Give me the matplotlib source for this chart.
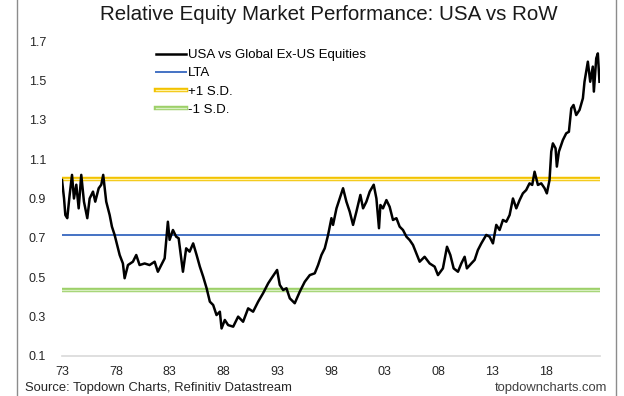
import matplotlib.pyplot as plt
import matplotlib.patheffects as pe
from matplotlib.lines import Line2D

plt.rcParams['font.family'] = ['Liberation Sans', 'DejaVu Sans']

# relative performance, USA vs global ex-US
years = [1973.00, 1973.19, 1973.31, 1973.49, 1973.71, 1973.93, 1974.11, 1974.33, 1974.55, 1974.79,
         1975.04, 1975.35, 1975.57, 1975.88, 1976.09, 1976.41, 1976.65, 1976.83, 1977.11, 1977.43,
         1977.64, 1977.89, 1978.13, 1978.36, 1978.66, 1978.82, 1979.13, 1979.59, 1979.90, 1980.21,
         1980.68, 1981.14, 1981.61, 1981.91, 1982.22, 1982.54, 1982.84, 1983.00, 1983.31, 1983.61,
         1983.84, 1984.24, 1984.54, 1984.86, 1985.19, 1985.51, 1985.81, 1986.12, 1986.44, 1986.74,
         1987.05, 1987.36, 1987.67, 1987.83, 1988.13, 1988.44, 1988.91, 1989.37, 1989.83, 1990.30,
         1990.76, 1991.23, 1991.69, 1992.16, 1992.47, 1992.99, 1993.24, 1993.55, 1993.86, 1994.17,
         1994.63, 1995.10, 1995.56, 1996.03, 1996.49, 1996.80, 1997.11, 1997.42, 1997.73, 1998.04,
         1998.19, 1998.51, 1998.81, 1999.12, 1999.43, 1999.74, 2000.05, 2000.36, 2000.73, 2000.98,
         2001.29, 2001.60, 2001.97, 2002.22, 2002.46, 2002.59, 2002.83, 2003.15, 2003.45, 2003.76,
         2004.08, 2004.38, 2004.69, 2005.01, 2005.31, 2005.62, 2005.93, 2006.24, 2006.70, 2007.17,
         2007.63, 2007.94, 2008.40, 2008.78, 2009.09, 2009.40, 2009.80, 2010.11, 2010.42, 2010.63,
         2011.04, 2011.35, 2011.65, 2011.97, 2012.43, 2012.74, 2013.05, 2013.36, 2013.67, 2013.98,
         2014.29, 2014.60, 2014.91, 2015.22, 2015.53, 2015.83, 2016.14, 2016.45, 2016.70, 2016.92,
         2017.23, 2017.54, 2017.85, 2018.06, 2018.31, 2018.47, 2018.62, 2018.87, 2018.99, 2019.18,
         2019.55, 2019.86, 2020.11, 2020.33, 2020.54, 2020.79, 2021.10, 2021.41, 2021.56, 2021.87,
         2022.09, 2022.33, 2022.43, 2022.65, 2022.80, 2022.95]
ratio = [0.994, 0.90, 0.816, 0.80, 0.918, 1.02, 0.90, 0.97, 0.85, 1.02,
         0.884, 0.80, 0.90, 0.935, 0.884, 0.952, 0.97, 1.02, 0.884, 0.816,
         0.757, 0.715, 0.664, 0.613, 0.57, 0.495, 0.562, 0.579, 0.613, 0.562,
         0.57, 0.562, 0.579, 0.528, 0.562, 0.596, 0.782, 0.69, 0.74, 0.706,
         0.698, 0.528, 0.647, 0.63, 0.672, 0.613, 0.554, 0.503, 0.444, 0.376,
         0.359, 0.308, 0.325, 0.24, 0.283, 0.257, 0.249, 0.30, 0.274, 0.342,
         0.325, 0.376, 0.419, 0.469, 0.495, 0.537, 0.461, 0.435, 0.444, 0.393,
         0.368, 0.427, 0.477, 0.511, 0.52, 0.562, 0.613, 0.647, 0.715, 0.80,
         0.766, 0.85, 0.90, 0.952, 0.884, 0.833, 0.766, 0.833, 0.918, 0.85,
         0.884, 0.935, 0.97, 0.90, 0.749, 0.867, 0.85, 0.892, 0.858, 0.791,
         0.80, 0.757, 0.74, 0.706, 0.689, 0.664, 0.622, 0.579, 0.604, 0.57,
         0.554, 0.511, 0.545, 0.655, 0.613, 0.545, 0.528, 0.57, 0.604, 0.545,
         0.57, 0.588, 0.638, 0.672, 0.715, 0.706, 0.672, 0.766, 0.74, 0.791,
         0.782, 0.816, 0.90, 0.85, 0.892, 0.926, 0.943, 0.977, 0.969, 1.036,
         0.969, 0.977, 0.952, 0.926, 0.994, 1.138, 1.18, 1.155, 1.062, 1.138,
         1.197, 1.231, 1.239, 1.358, 1.375, 1.324, 1.35, 1.409, 1.493, 1.595,
         1.493, 1.57, 1.443, 1.612, 1.637, 1.493]

lta = 0.715
sd_up = 1.0
sd_dn = 0.435

tick_years = [1973, 1978, 1983, 1988, 1993, 1998, 2003, 2008, 2013, 2018]
tick_labels = ['73', '78', '83', '88', '93', '98', '03', '08', '13', '18']
y_ticks = [0.1, 0.3, 0.5, 0.7, 0.9, 1.1, 1.3, 1.5, 1.7]

fig = plt.figure(figsize=(6.24, 3.96), dpi=100)
ax = fig.add_axes([62/624, 1 - 356/396, 538/624, 315/396])

x0, x1 = 1973, 2023
ax.plot(years, ratio, color='black', lw=1.8, label='USA vs Global Ex-US Equities', zorder=5)
ax.plot([x0, x1], [lta, lta], color='#4472C4', lw=1.4, label='LTA', zorder=3)
ax.plot([x0, x1], [sd_up, sd_up], color='#FFF3A8', lw=1.0, label='+1 S.D.', zorder=3,
        path_effects=[pe.Stroke(linewidth=3.2, foreground='#F2C200'), pe.Normal()])
ax.plot([x0, x1], [sd_dn, sd_dn], color='#D9EFC2', lw=1.0, label='-1 S.D.', zorder=3,
        path_effects=[pe.Stroke(linewidth=3.2, foreground='#9DD069'), pe.Normal()])

ax.set_xlim(x0, x1)
ax.set_ylim(0.1, 1.7)
ax.set_yticks(y_ticks)
ax.set_yticklabels([f'{v:.1f}' for v in y_ticks])
ax.set_xticks(tick_years)
ax.set_xticklabels(tick_labels)
ax.tick_params(length=0, labelsize=9, colors='#262626')
ax.tick_params(axis='y', pad=11.5)
ax.tick_params(axis='x', pad=7)
for s in ['top', 'right', 'left']:
    ax.spines[s].set_visible(False)
ax.spines['bottom'].set_color('#D9D9D9')
ax.spines['bottom'].set_linewidth(1.2)

ax.legend(loc='upper left', bbox_to_anchor=(0.16, 1.0), frameon=False, fontsize=9.5,
          handlelength=2.3, handletextpad=0.15, labelspacing=0.45, borderaxespad=0.2)

fig.text(329/624, 1 - 14/396, 'Relative Equity Market Performance: USA vs RoW',
         ha='center', va='center', fontsize=14.8, color='#1a1a1a')
fig.text(25/624, 1 - 388/396, 'Source: Topdown Charts, Refinitiv Datastream',
         ha='left', va='center', fontsize=9.4, color='#262626')
fig.text(607/624, 1 - 388/396, 'topdowncharts.com',
         ha='right', va='center', fontsize=9.4, color='#404040')

# outer frame lines at the sides
fig.add_artist(Line2D([17/624, 17/624], [0, 1], color='#8c8c8c', lw=1, transform=fig.transFigure))
fig.add_artist(Line2D([616/624, 616/624], [0, 1], color='#8c8c8c', lw=1, transform=fig.transFigure))

fig.savefig('out.png', dpi=100)
